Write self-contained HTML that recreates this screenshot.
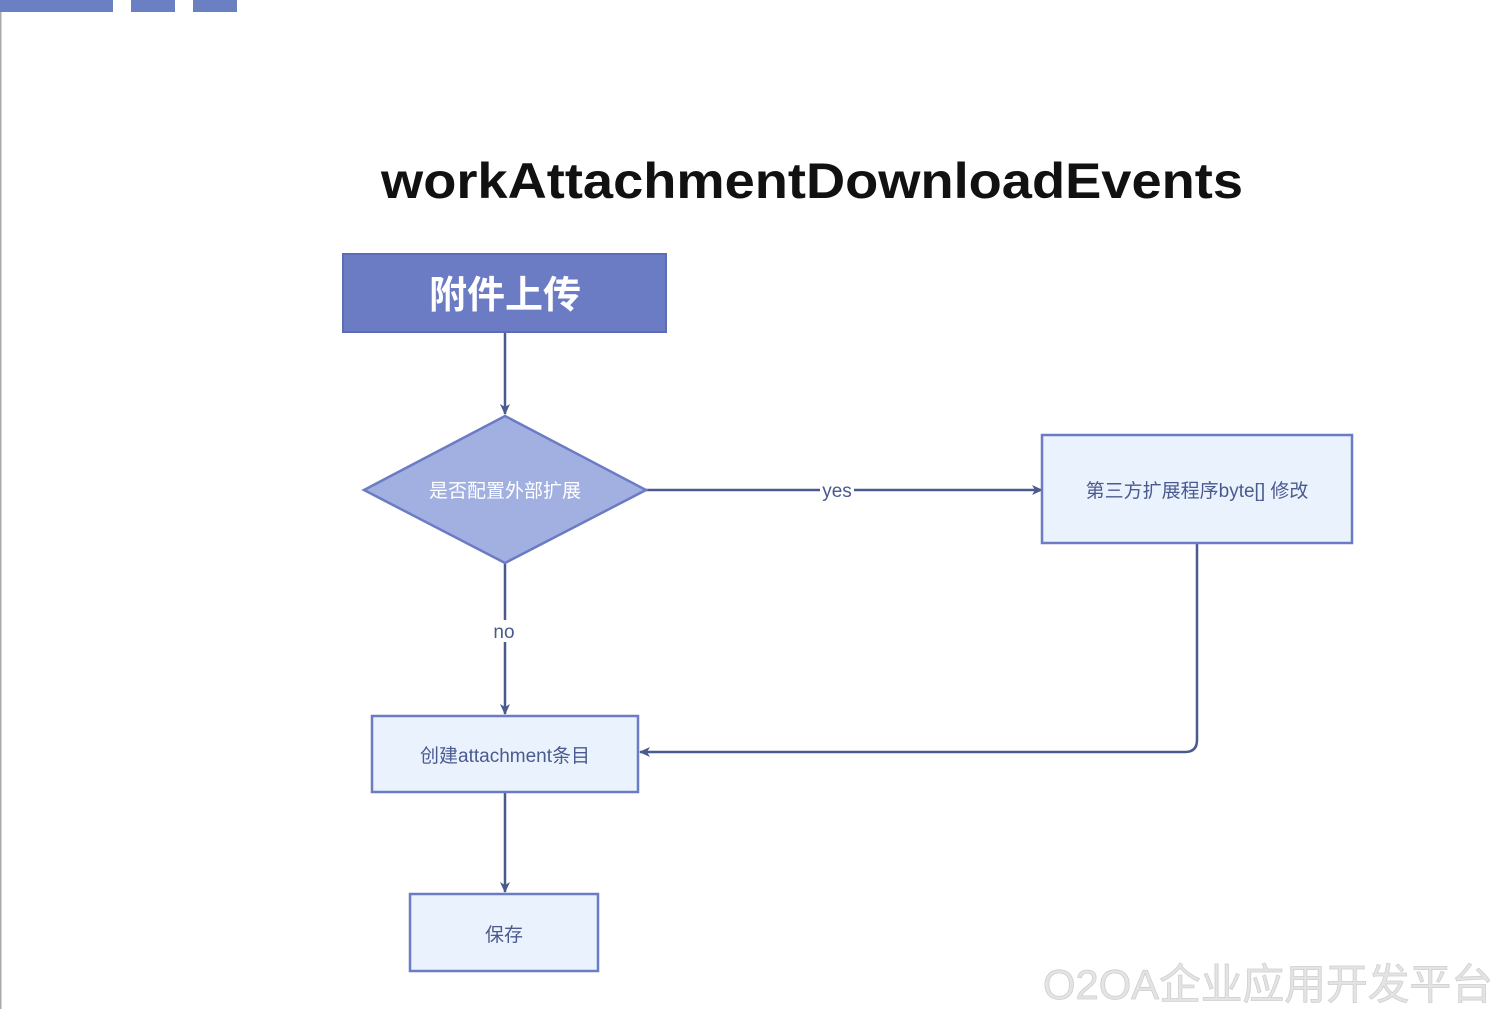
<!DOCTYPE html>
<html><head><meta charset="utf-8"><style>
html,body{margin:0;padding:0;background:#fff;}
svg{display:block;}
text{font-family:"Liberation Sans","Noto Sans CJK SC",sans-serif;}
</style></head><body>
<svg width="1500" height="1009" viewBox="0 0 1500 1009" xmlns="http://www.w3.org/2000/svg">
<defs>
<marker id="a" markerWidth="12" markerHeight="12" refX="10" refY="6" orient="auto" markerUnits="userSpaceOnUse">
<path d="M0,1 L11,6 L0,11 L3,6 Z" fill="#4a5a8f"/>
</marker>
</defs>
<rect x="0" y="0" width="1.5" height="1009" fill="#aaa"/>
<rect x="0" y="0" width="113" height="12" fill="#6b80c2"/>
<rect x="131" y="0" width="44" height="12" fill="#6b80c2"/>
<rect x="193" y="0" width="44" height="12" fill="#6b80c2"/>
<text x="812" y="198" font-size="50" font-weight="bold" text-anchor="middle" textLength="862" lengthAdjust="spacingAndGlyphs" fill="#111">workAttachmentDownloadEvents</text>
<rect x="343" y="254" width="323" height="78" fill="#6b7bc4" stroke="#5c6db5" stroke-width="2"/>
<text x="505" y="308" font-size="38" font-weight="bold" text-anchor="middle" fill="#fff">附件上传</text>
<g stroke="#4a5a8f" stroke-width="2.5" fill="none">
<line x1="505" y1="333" x2="505" y2="414" marker-end="url(#a)"/>
<line x1="646" y1="490" x2="1042" y2="490" marker-end="url(#a)"/>
<line x1="505" y1="563" x2="505" y2="714" marker-end="url(#a)"/>
<path d="M1197,544 V740 Q1197,752 1185,752 H640" marker-end="url(#a)"/>
<line x1="505" y1="793" x2="505" y2="892" marker-end="url(#a)"/>
</g>
<polygon points="505,416 646,490 505,563 364,490" fill="#a1b0e0" stroke="#6b7bc4" stroke-width="2.5"/>
<text x="505" y="497" font-size="19" text-anchor="middle" fill="#fff">是否配置外部扩展</text>
<rect x="820" y="480" width="34" height="20" fill="#fff"/>
<text x="837" y="497" font-size="19" text-anchor="middle" fill="#4a5a8f">yes</text>
<rect x="488" y="620" width="34" height="22" fill="#fff"/>
<text x="504" y="638" font-size="19" text-anchor="middle" fill="#4a5a8f">no</text>
<rect x="1042" y="435" width="310" height="108" fill="#eaf3fd" stroke="#6b7bc4" stroke-width="2.5"/>
<text x="1197" y="497" font-size="19" text-anchor="middle" fill="#4a5a8f">第三方扩展程序byte[] 修改</text>
<rect x="372" y="716" width="266" height="76" fill="#eaf3fd" stroke="#6b7bc4" stroke-width="2.5"/>
<text x="505" y="762" font-size="19" text-anchor="middle" fill="#4a5a8f">创建attachment条目</text>
<rect x="410" y="894" width="188" height="77" fill="#eaf3fd" stroke="#6b7bc4" stroke-width="2.5"/>
<text x="504" y="941" font-size="19" text-anchor="middle" fill="#4a5a8f">保存</text>
<text x="1268" y="999" font-size="42" text-anchor="middle" textLength="450" lengthAdjust="spacingAndGlyphs" fill="#e4e4e4" stroke="#cfcfcf" stroke-width="0.8">O2OA企业应用开发平台</text>
</svg>
</body></html>
